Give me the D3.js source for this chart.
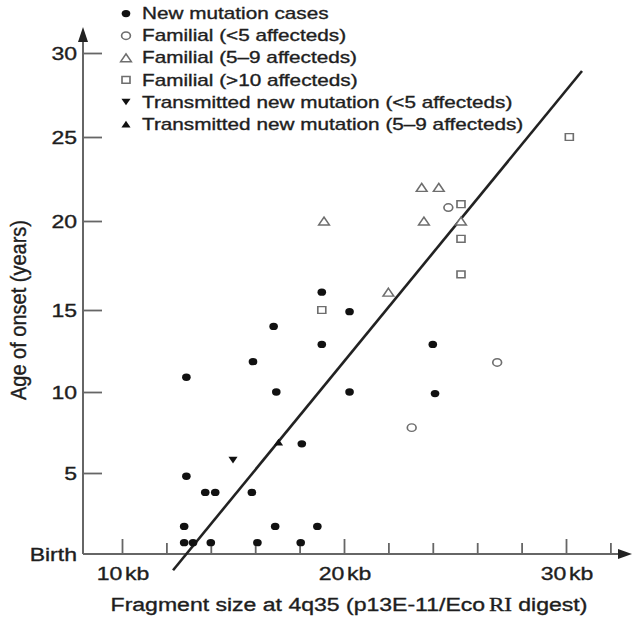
<!DOCTYPE html>
<html lang="en">
<head>
<meta charset="UTF-8">
<title>Age of onset vs fragment size</title>
<script src="https://d3js.org/d3.v7.min.js"></script>
<style>
  body { margin: 0; background: #fff; }
  svg text { font-family: 'Liberation Sans', Arial, sans-serif; fill: #1e1e1e; stroke: #1e1e1e; stroke-width: 0.35px; }
</style>
</head>
<body>
<div id="chart"></div>
<script>
// values: [fragment size (kb), age of onset (years)]
const newMutation = [
  [12.8, 0.7], [13.2, 0.7], [14.0, 0.7], [16.1, 0.7], [18.05, 0.7],
  [12.8, 1.7], [16.9, 1.7], [18.8, 1.7],
  [13.75, 3.8], [14.2, 3.8], [15.85, 3.8],
  [12.9, 4.8], [18.1, 6.8],
  [16.95, 10], [20.25, 10], [24.1, 9.9],
  [12.9, 10.9], [15.9, 11.85],
  [19.0, 12.9], [24.0, 12.9],
  [16.83, 14.0], [20.25, 14.9], [19.0, 16.0]
];
const familialLt5 = [[23.05, 7.8], [26.9, 11.8], [24.7, 20.8]];
const familial5to9 = [[19.1, 20], [22.0, 16], [23.5, 22], [24.27, 22], [23.6, 20], [25.27, 20]];
const familialGt10 = [[19.0, 15], [25.27, 21], [25.27, 19], [25.27, 17], [30.15, 25]];
const transmittedLt5 = [[15.0, 5.8]];
const transmitted5to9 = [[17.05, 6.9]];
const fitLine = [[12.3, -1.0], [30.72, 28.93]];

const legendLabels = [
  "New mutation cases",
  "Familial (<5 affecteds)",
  "Familial (5\u20139 affecteds)",
  "Familial (>10 affecteds)",
  "Transmitted new mutation (<5 affecteds)",
  "Transmitted new mutation (5\u20139 affecteds)"
];
const yTickValues = [5, 10, 15, 20, 25, 30];
const xTickValues = [10, 12, 14, 16, 18, 20, 22, 24, 26, 28, 30, 32];
const xTickLabels = [10, 20, 30];

const width = 633, height = 620;
const SX = 1.28;   // the printed figure is stretched sideways
const axisColor = "#666";

const svg = d3.select("#chart").append("svg")
    .attr("width", width)
    .attr("height", height);

// the y ticks of the original are not evenly spaced, so keep them piecewise
const x = d3.scaleLinear().domain([10, 30]).range([122, 566]);
const y = d3.scaleLinear()
    .domain([0, 5, 10, 15, 20, 25, 30])
    .range([554, 473, 392, 310, 221, 137, 53]);
const xLeft = 83, yBase = y(0);

function label(g, px, py, str, size, anchor) {
  return g.append("text")
      .attr("transform", `translate(${px},${py}) scale(${SX},1)`)
      .attr("text-anchor", anchor || "start")
      .style("font-size", size + "px")
      .text(str);
}

// axes with arrow heads
const ax = svg.append("g");
ax.append("line")
    .attr("x1", xLeft).attr("y1", yBase).attr("x2", xLeft).attr("y2", 36)
    .attr("stroke", axisColor).attr("stroke-width", 2);
ax.append("path")
    .attr("d", `M${xLeft},27 L${xLeft - 5},42 L${xLeft + 5},42 Z`)
    .attr("fill", "#222");
ax.append("line")
    .attr("x1", xLeft).attr("y1", yBase).attr("x2", 622).attr("y2", yBase)
    .attr("stroke", axisColor).attr("stroke-width", 2);
ax.append("path")
    .attr("d", `M632,${yBase} L618,${yBase - 5} L618,${yBase + 5} Z`)
    .attr("fill", "#222");

// x ticks point up into the plot
const xAxis = svg.append("g")
    .attr("transform", `translate(0,${yBase})`)
    .call(d3.axisBottom(x).tickValues(xTickValues).tickSize(-11).tickFormat(""));
xAxis.select(".domain").remove();
xAxis.selectAll(".tick line")
    .attr("stroke", axisColor).attr("stroke-width", 1.8)
    .attr("y2", d => xTickLabels.includes(d) ? -15 : -11);

xTickLabels.forEach(v => {
  const t = label(svg, x(v) + 1, 580, "", 18, "middle");
  t.append("tspan").text(String(v));
  t.append("tspan").attr("dx", 2).text("kb");
});

// y ticks point right
const yAxis = svg.append("g")
    .attr("transform", `translate(${xLeft},0)`)
    .call(d3.axisLeft(y).tickValues(yTickValues).tickSize(-19).tickFormat(""));
yAxis.select(".domain").remove();
yAxis.selectAll(".tick line").attr("stroke", axisColor).attr("stroke-width", 1.8);

yTickValues.forEach(v => label(svg, 77, y(v) + 6.5, String(v), 18, "end"));
label(svg, 77, yBase + 6.5, "Birth", 18, "end");

// axis titles
const xt = label(svg, 349, 611, "", 18, "middle");
xt.append("tspan").text("Fragment size at 4q35 (p13E-11/Eco");
xt.append("tspan").attr("dx", 3).style("font-family", "'Liberation Serif', serif").text("RI");
xt.append("tspan").text(" digest)");

svg.append("text")
    .attr("transform", `translate(26,310) scale(1.1,1) rotate(-90)`)
    .attr("text-anchor", "middle")
    .style("font-size", "20px")
    .text("Age of onset (years)");

// regression line
svg.append("path")
    .datum(fitLine)
    .attr("d", d3.line().x(d => x(d[0])).y(d => y(d[1])))
    .attr("fill", "none")
    .attr("stroke", "#222")
    .attr("stroke-width", 2.6);

// markers
const markers = {
  dot:     { type: d3.symbolCircle,   size: 42, fill: "#111", stroke: "none", rot: 0 },
  circle:  { type: d3.symbolCircle,   size: 44, fill: "#fff", stroke: "#6e6e6e", rot: 0 },
  tri:     { type: d3.symbolTriangle, size: 36, fill: "#fff", stroke: "#6e6e6e", rot: 0 },
  square:  { type: d3.symbolSquare,   size: 46, fill: "#fff", stroke: "#6e6e6e", rot: 0 },
  triDown: { type: d3.symbolTriangle, size: 26, fill: "#111", stroke: "none", rot: 180 },
  triUp:   { type: d3.symbolTriangle, size: 26, fill: "#111", stroke: "none", rot: 0 }
};
function shift(m) {
  // put the middle of a triangle's box on the point, not its centroid
  if (m.type !== d3.symbolTriangle) return 0;
  const h = Math.sqrt(m.size / (3 * Math.sqrt(3))) / 2;
  return m.rot ? -h : h;
}
function drawMarker(g, m, px, py) {
  g.append("path")
      .attr("d", d3.symbol().type(m.type).size(m.size)())
      .attr("transform", `translate(${px},${py + shift(m)}) scale(${SX * 0.92},1) rotate(${m.rot})`)
      .attr("fill", m.fill)
      .attr("stroke", m.stroke)
      .attr("stroke-width", 1.4);
}

const series = [
  { data: newMutation, m: markers.dot },
  { data: familialLt5, m: markers.circle },
  { data: familial5to9, m: markers.tri },
  { data: familialGt10, m: markers.square },
  { data: transmittedLt5, m: markers.triDown },
  { data: transmitted5to9, m: markers.triUp }
];

const pts = svg.append("g");
series.forEach(s => s.data.forEach(d => drawMarker(pts, s.m, x(d[0]), y(d[1]))));

// legend
const lg = svg.append("g");
series.forEach((s, i) => {
  const ry = 13.6 + i * 22.1;
  drawMarker(lg, s.m, 126, ry);
  label(lg, 142, ry + 5.6, legendLabels[i], 16.2);
});
</script>
</body>
</html>
